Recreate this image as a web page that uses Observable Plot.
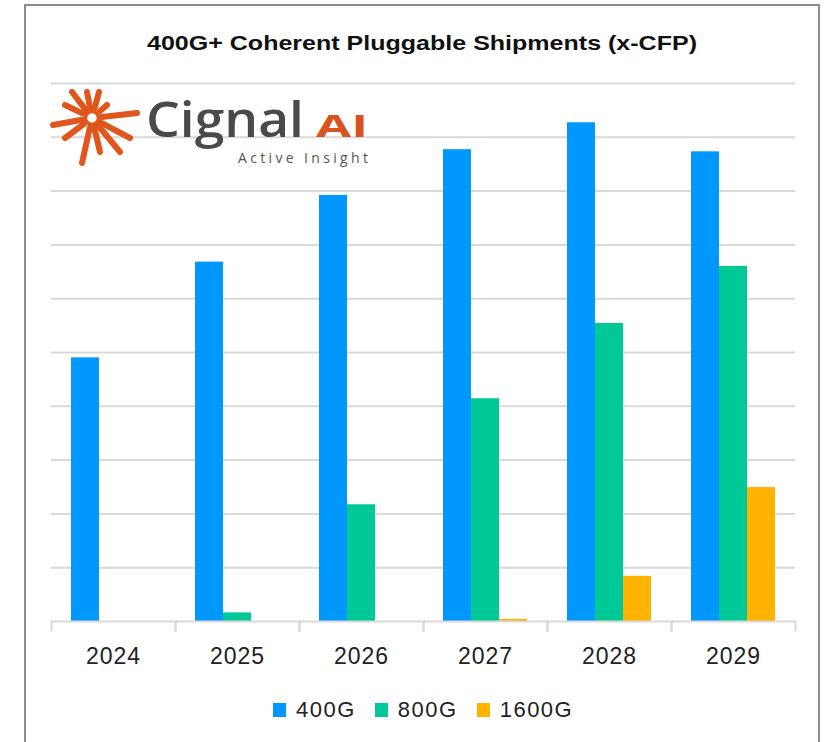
<!DOCTYPE html>
<html>
<head>
<meta charset="utf-8">
<script src="https://cdn.jsdelivr.net/npm/d3@7"></script>
<script src="https://cdn.jsdelivr.net/npm/@observablehq/plot@0.6"></script>
<style>
  html, body { margin: 0; padding: 0; background: #fff; }
  #wrap { position: relative; width: 828px; height: 742px; overflow: hidden; background: #fff; }
  #border { position: absolute; left: 24px; top: 4px; width: 792px; height: 800px; border: 2px solid #8c8c8c; }
  #chart { position: absolute; left: 0; top: 0; }
  #chart svg text { letter-spacing: 1px; }
  #overlay { position: absolute; left: 0; top: 0; }
  #legend { position: absolute; left: 273px; top: 697px; display: flex; align-items: center;
            font-family: "Liberation Sans", Arial, sans-serif; font-size: 22px; color: #222; letter-spacing: 1.5px; }
  .item { display: flex; align-items: center; margin-right: 19px; }
  .sw { width: 13px; height: 14px; margin-right: 10px; }
</style>
</head>
<body>
<div id="wrap">
  <div id="border"></div>
  <div id="chart"></div>
  <svg id="overlay" width="828" height="742"></svg>
  <div id="legend"></div>
</div>
<script>
// ---- data ----
const years = ["2024", "2025", "2026", "2027", "2028", "2029"];
const series = ["400G", "800G", "1600G"];
const values400G = [490, 668, 792, 877, 927, 873];
const values800G = [0, 16, 217, 414, 554, 660];
const values1600G = [0, 0, 0, 4, 84, 249];
const seriesColors = ["#0098ff", "#00c896", "#ffb300"];
const yTicks = [100, 200, 300, 400, 500, 600, 700, 800, 900, 1000];
const titleText = "400G+ Coherent Pluggable Shipments (x-CFP)";

const seriesValues = [values400G, values800G, values1600G];
const data = [];
years.forEach((yr, i) => series.forEach((s, j) => data.push({year: yr, series: s, value: seriesValues[j][i]})));

const grid = "#d9d9d9";
const plot = Plot.plot({
  width: 828,
  height: 742,
  marginLeft: 50,
  marginRight: 33,
  marginTop: 83,
  marginBottom: 121,
  style: {fontFamily: "Liberation Sans, Arial, sans-serif", background: "transparent"},
  fx: {domain: years, padding: 0, label: null},
  x: {domain: series, paddingInner: 0, paddingOuter: 0.714, axis: null},
  y: {domain: [0, 1000], axis: null},
  color: {domain: series, range: seriesColors},
  marks: [
    Plot.gridY(yTicks, {stroke: grid, strokeOpacity: 1, strokeWidth: 2}),
    Plot.barY(data, {fx: "year", x: "series", y: "value", fill: "series"}),
    Plot.ruleY([0], {stroke: grid, strokeWidth: 2}),
    Plot.frame({anchor: "left", stroke: grid, strokeWidth: 2, insetTop: 538, insetBottom: -9}),
    Plot.frame({anchor: "right", stroke: grid, strokeWidth: 2, insetTop: 538, insetBottom: -9}),
    Plot.axisFx({anchor: "bottom", tickSize: 0, tickPadding: 26, fontSize: 23, fill: "#222", label: null})
  ]
});
document.getElementById("chart").appendChild(plot);

// ---- legend ----
const legend = document.getElementById("legend");
series.forEach((s, i) => {
  const item = document.createElement("div");
  item.className = "item";
  const sw = document.createElement("div");
  sw.className = "sw";
  sw.style.background = seriesColors[i];
  const t = document.createElement("span");
  t.textContent = s;
  item.appendChild(sw);
  item.appendChild(t);
  legend.appendChild(item);
});

// ---- title and logo ----
const ov = d3.select("#overlay");
ov.append("text")
  .attr("x", 147).attr("y", 50)
  .attr("textLength", 550).attr("lengthAdjust", "spacingAndGlyphs")
  .attr("font-family", "Liberation Sans Narrow, Liberation Sans, Arial, sans-serif")
  .attr("font-weight", "bold").attr("font-size", 21).attr("fill", "#111")
  .text(titleText);

const orange = "#e0561c";
const cx = 92, cy = 118;
const rays = [[137,113],[53,125],[72,92],[87,92],[99,92],[107,105],[82,163],[100,152],[120,152],[130,138],[65,138],[65,105]];
const g = ov.append("g").attr("stroke", orange).attr("stroke-linecap", "round").attr("fill", "none");
rays.forEach(([ex, ey]) => {
  const dx = ex - cx, dy = ey - cy, L = Math.hypot(dx, dy);
  g.append("line")
    .attr("x1", cx + dx / L * 10).attr("y1", cy + dy / L * 10)
    .attr("x2", ex).attr("y2", ey)
    .attr("stroke-width", 6);
});
g.append("circle").attr("cx", cx).attr("cy", cy).attr("r", 6.5).attr("stroke-width", 3.5);

ov.append("text").attr("x", 146).attr("y", 137)
  .attr("textLength", 158).attr("lengthAdjust", "spacingAndGlyphs")
  .attr("font-family", "Open Sans, Liberation Sans, sans-serif").attr("font-size", 49).attr("font-weight", 600)
  .attr("fill", "#4a4a4a").text("Cignal");
ov.append("text").attr("x", 316).attr("y", 137)
  .attr("textLength", 52).attr("lengthAdjust", "spacingAndGlyphs")
  .attr("font-family", "Open Sans, Liberation Sans, sans-serif").attr("font-weight", "bold").attr("font-size", 31)
  .attr("fill", "#d9531e").text("AI");
ov.append("text").attr("x", 238).attr("y", 163)
  .attr("textLength", 130).attr("lengthAdjust", "spacing")
  .attr("font-family", "Open Sans, Liberation Sans, sans-serif").attr("font-size", 14)
  .attr("fill", "#555").text("Active Insight");
</script>
</body>
</html>
